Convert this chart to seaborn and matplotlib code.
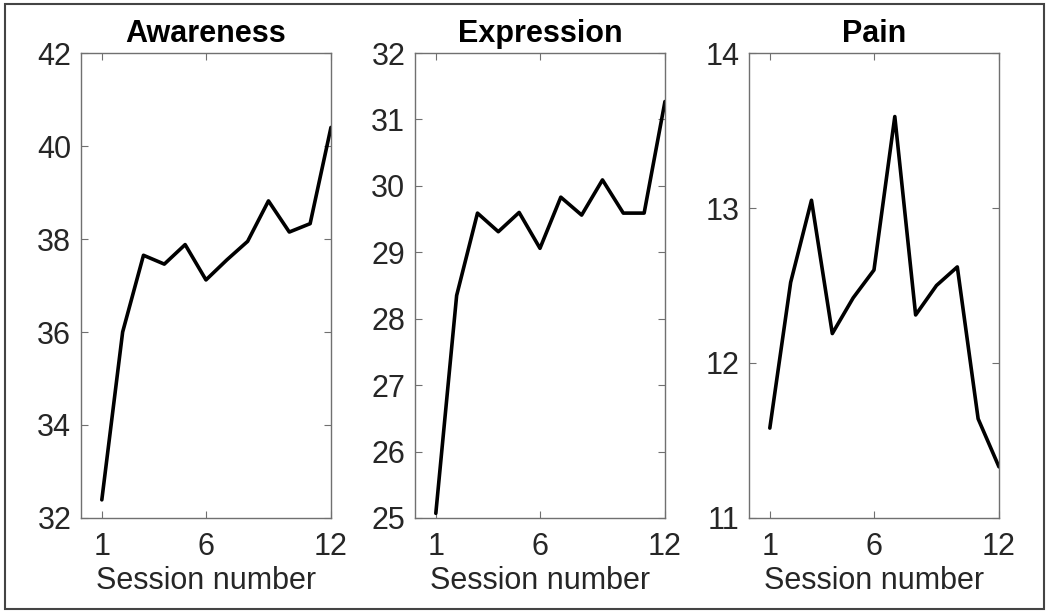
import matplotlib
matplotlib.use("Agg")
import matplotlib.pyplot as plt
import seaborn as sns
import pandas as pd
from matplotlib.patches import Rectangle

# Session numbers and mean scores per panel
sessions = list(range(1, 13))
awareness = [32.39, 36.0, 37.65, 37.46, 37.88, 37.12, 37.55, 37.95, 38.82, 38.15, 38.33, 40.4]
expression = [25.07, 28.35, 29.59, 29.31, 29.6, 29.06, 29.83, 29.56, 30.09, 29.59, 29.59, 31.27]
pain = [11.58, 12.52, 13.05, 12.19, 12.42, 12.6, 13.59, 12.31, 12.5, 12.62, 11.64, 11.33]

titles = ["Awareness", "Expression", "Pain"]
ylims = [(32, 42), (25, 32), (11, 14)]
yticks = [[32, 34, 36, 38, 40, 42], list(range(25, 33)), [11, 12, 13, 14]]
xticks = [1, 6, 12]

sns.set_theme(style="white")
plt.rcParams["font.family"] = ["Liberation Sans", "DejaVu Sans"]

fig = plt.figure(figsize=(10.49, 6.13), dpi=100)
lefts = [0.0772, 0.3956, 0.714]
axes = [fig.add_axes([l, 0.1550, 0.2383, 0.7585]) for l in lefts]

for ax, title, vals, ylim, yt in zip(axes, titles, [awareness, expression, pain], ylims, yticks):
    df = pd.DataFrame({"Session": sessions, "Score": vals})
    sns.lineplot(data=df, x="Session", y="Score", ax=ax, color="black", linewidth=2.6)
    ax.set_xlim(0, 12)
    ax.set_ylim(*ylim)
    ax.set_xticks(xticks)
    ax.set_yticks(yt)
    ax.set_title(title, fontsize=22, fontweight="bold", color="black", pad=8)
    ax.set_xlabel("Session number", fontsize=22, color="#262626", labelpad=3)
    ax.set_ylabel("")
    for s in ax.spines.values():
        s.set_visible(True)
        s.set_color("#707070")
        s.set_linewidth(1.0)
    ax.tick_params(axis="both", direction="in", length=5, width=0.8, color="#707070",
                   labelsize=22, labelcolor="#262626", top=True, right=True,
                   bottom=True, left=True)
    ax.tick_params(axis="x", pad=10)
    ax.tick_params(axis="y", pad=7)

# outer border around the figure
fig.patches.append(Rectangle((0.005, 0.006), 0.99, 0.988, transform=fig.transFigure,
                             fill=False, edgecolor="#444444", linewidth=1.5))

fig.savefig("out.png", dpi=100)
